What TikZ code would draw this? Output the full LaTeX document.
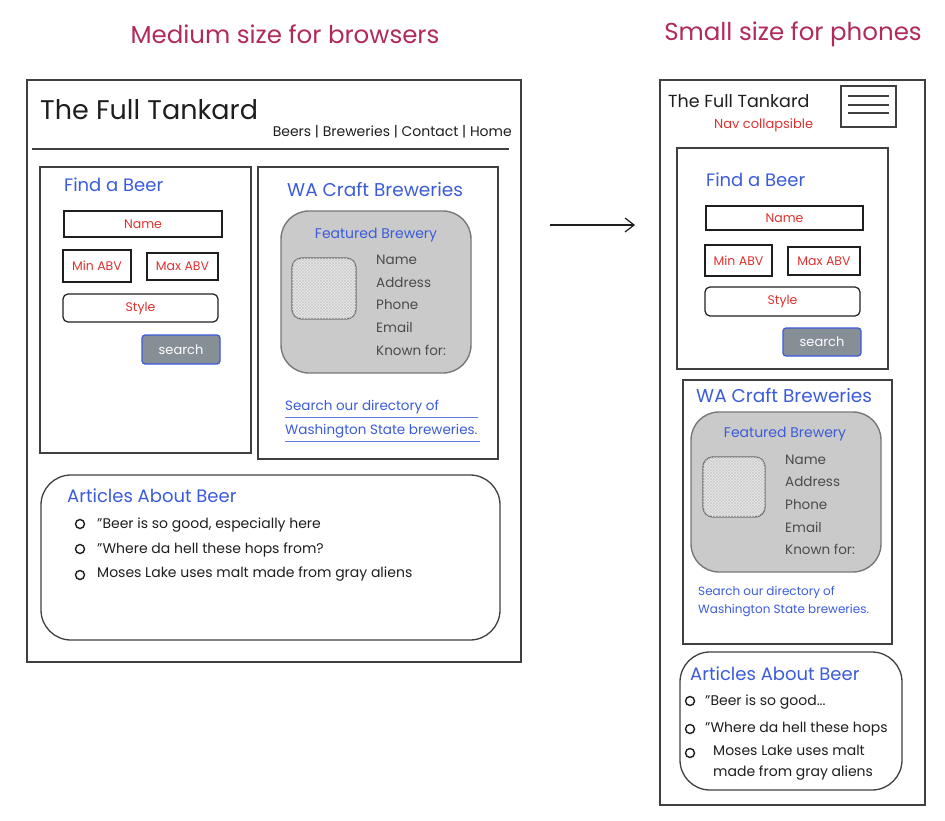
\documentclass[tikz,border=0pt]{standalone}
\usepackage{fontspec}
\setmainfont{Poppins}
\usepackage{tikz}
\usetikzlibrary{arrows.meta,patterns}

\definecolor{headred}{HTML}{B02A5B}
\definecolor{inkblue}{HTML}{3B5BDB}
\definecolor{fieldred}{HTML}{E03131}
\definecolor{ink}{HTML}{1E1E1E}
\definecolor{cardgray}{HTML}{CACACA}
\definecolor{btngray}{HTML}{868E96}

\begin{document}
\begin{tikzpicture}
  [x=1pt, y=-1pt,
    frame/.style={draw=ink!85, line width=1.3pt},
    roundpanel/.style={draw=ink!85, line width=1.3pt, rounded corners=30pt},
    card/.style={draw=ink!60, line width=1.4pt, fill=cardgray, rounded corners=28pt},
    photo/.style={draw=ink!65, line width=1.4pt, rounded corners=10pt, fill=gray!18,
                  postaction={pattern=crosshatch, pattern color=gray!40}},
    field/.style={rectangle, draw=ink, line width=1.2pt, text=fieldred, inner sep=0pt,
                  font=\fontsize{12.5}{14}\selectfont},
    stylefield/.style={field, rounded corners=5pt},
    button/.style={rectangle, draw=inkblue, line width=1.2pt, fill=btngray, text=white,
                   rounded corners=3pt, inner sep=0pt, font=\fontsize{13}{15}\selectfont},
    heading/.style={text=headred, font=\fontsize{24.5}{28}\selectfont},
    brand/.style={anchor=west, text=ink, inner sep=0pt},
    blue/.style={anchor=west, text=inkblue, inner sep=0pt},
    cardtext/.style={anchor=west, text=ink!80, inner sep=0pt, font=\fontsize{13.5}{15}\selectfont},
    listtext/.style={anchor=west, text=ink, inner sep=0pt, font=\fontsize{14}{16}\selectfont},
    bullet/.style={circle, draw=ink, line width=1.4pt, minimum size=9pt, inner sep=0pt},
    link/.style={draw=inkblue!80, line width=1.2pt}
  ]

  \useasboundingbox (0,0) rectangle (945,821);

  % headings
  \node[heading] (hMedium) at (285,34) {Medium size for browsers};
  \node[heading] (hSmall)  at (793,34) {Small size for phones};

  % ---------------- browser ----------------
  \draw[frame] (27,80) rectangle (521,662);
  \node[brand, font=\fontsize{27}{31}\selectfont] (bTitle) at (40,110) {The Full Tankard};
  \node[anchor=east, text=ink, inner sep=0pt, font=\fontsize{14}{16}\selectfont] (bNav) at (512,132)
       {Beers | Breweries | Contact | Home};
  \draw[ink!85, line width=1.3pt] (32,149) -- (509,149);

  % find a beer
  \draw[frame] (40,167) rectangle (251,453);
  \node[blue, font=\fontsize{18}{21}\selectfont] (bFind) at (64,185) {Find a Beer};
  \node[field, minimum width=158pt, minimum height=26pt] (bName) at (143,224) {Name};
  \node[field, minimum width=68pt,  minimum height=32pt] (bMin)  at (97,266)  {Min ABV};
  \node[field, minimum width=71pt,  minimum height=27pt] (bMax)  at (182.5,266.5) {Max ABV};
  \node[stylefield, minimum width=155pt, minimum height=28pt] (bStyle) at (140.5,308) {Style};
  \node[button, minimum width=78pt, minimum height=29pt] (bSearch) at (181,349.5) {search};

  % breweries
  \draw[frame] (258,167) rectangle (498,459);
  \node[blue, font=\fontsize{18.5}{22}\selectfont] (bWA) at (287,190) {WA Craft Breweries};
  \draw[card] (281,211) rectangle (471,373);
  \node[text=inkblue, font=\fontsize{14}{16}\selectfont] (bFeat) at (376,235) {Featured Brewery};
  \draw[photo] (292,258) rectangle (356,319);
  \foreach \lbl [count=\i] in {Name,Address,Phone,Email,Known for:}
    \node[cardtext] (bInfo\i) at (376,237.5+22.5*\i) {\lbl};
  \node[blue, font=\fontsize{13.5}{15}\selectfont] (bLink1) at (285,407) {Search our directory of};
  \node[blue, font=\fontsize{13.5}{15}\selectfont] (bLink2) at (285,431) {Washington State breweries.};
  \draw[link] (bLink1.south west) ++(0,3) -- ++(193,0);
  \draw[link] (bLink2.south west) ++(0,3) -- ++(195,0);

  % articles
  \draw[roundpanel] (41,475) rectangle (500,640);
  \node[blue, font=\fontsize{18}{21}\selectfont] (bArt) at (67,496) {Articles About Beer};
  \foreach \y [count=\i] in {524,549,575}
    \node[bullet] (bDot\i) at (80,\y) {};
  \node[listtext] (bItem1) at (97,525) {"Beer is so good, especially here};
  \node[listtext] (bItem2) at (97,550) {"Where da hell these hops from?};
  \node[listtext] (bItem3) at (97,574) {Moses Lake uses malt made from gray aliens};

  % ---------------- arrow ----------------
  \coordinate (arrowA) at (550,225);
  \coordinate (arrowB) at (635,225);
  \draw[ink, line width=1.2pt, -{Straight Barb[length=9pt,width=14pt]}] (arrowA) -- (arrowB);

  % ---------------- phone ----------------
  \draw[frame] (660,80) rectangle (925,805);
  \node[brand, font=\fontsize{17.5}{20}\selectfont] (pTitle) at (668,101) {The Full Tankard};
  \node[anchor=west, text=fieldred, inner sep=0pt, font=\fontsize{13}{15}\selectfont] (pNav) at (714,125)
       {Nav collapsible};
  \draw[frame] (841,86) rectangle (896,127);
  \foreach \y in {96,105,113}
    \draw[ink!85, line width=1.3pt] (848,\y) -- (889,\y);

  % find a beer
  \draw[frame] (677,148) rectangle (888,369);
  \node[blue, font=\fontsize{18}{21}\selectfont] (pFind) at (706,180) {Find a Beer};
  \node[field, minimum width=157pt, minimum height=24pt] (pName) at (784.5,218) {Name};
  \node[field, minimum width=67pt,  minimum height=31pt] (pMin)  at (738.5,260.5) {Min ABV};
  \node[field, minimum width=72pt,  minimum height=28pt] (pMax)  at (824,261) {Max ABV};
  \node[stylefield, minimum width=155pt, minimum height=29pt] (pStyle) at (782.5,301.5) {Style};
  \node[button, minimum width=78pt, minimum height=28pt] (pSearch) at (822,342) {search};

  % breweries
  \draw[frame] (683,380) rectangle (892,644);
  \node[blue, font=\fontsize{18.5}{22}\selectfont] (pWA) at (696,396) {WA Craft Breweries};
  \draw[card] (691,412) rectangle (881,572);
  \node[text=inkblue, font=\fontsize{14}{16}\selectfont] (pFeat) at (785,434) {Featured Brewery};
  \draw[photo] (703,457) rectangle (765,517);
  \foreach \lbl [count=\i] in {Name,Address,Phone,Email,Known for:}
    \node[cardtext] (pInfo\i) at (785,437+22.5*\i) {\lbl};
  \node[blue, font=\fontsize{12}{14}\selectfont] (pLink1) at (698,592) {Search our directory of};
  \node[blue, font=\fontsize{12}{14}\selectfont] (pLink2) at (698,611) {Washington State breweries.};

  % articles
  \draw[roundpanel] (680,652) rectangle (902,790);
  \node[blue, font=\fontsize{18}{21}\selectfont] (pArt) at (690,674) {Articles About Beer};
  \foreach \y [count=\i] in {701,729,753}
    \node[bullet] (pDot\i) at (690,\y) {};
  \node[listtext] (pItem1) at (705,702) {"Beer is so good...};
  \node[listtext] (pItem2) at (705,729) {"Where da hell these hops};
  \node[listtext] (pItem3) at (713,750) {Moses Lake uses malt};
  \node[listtext] (pItem4) at (713,773) {made from gray aliens};

\end{tikzpicture}
\end{document}
